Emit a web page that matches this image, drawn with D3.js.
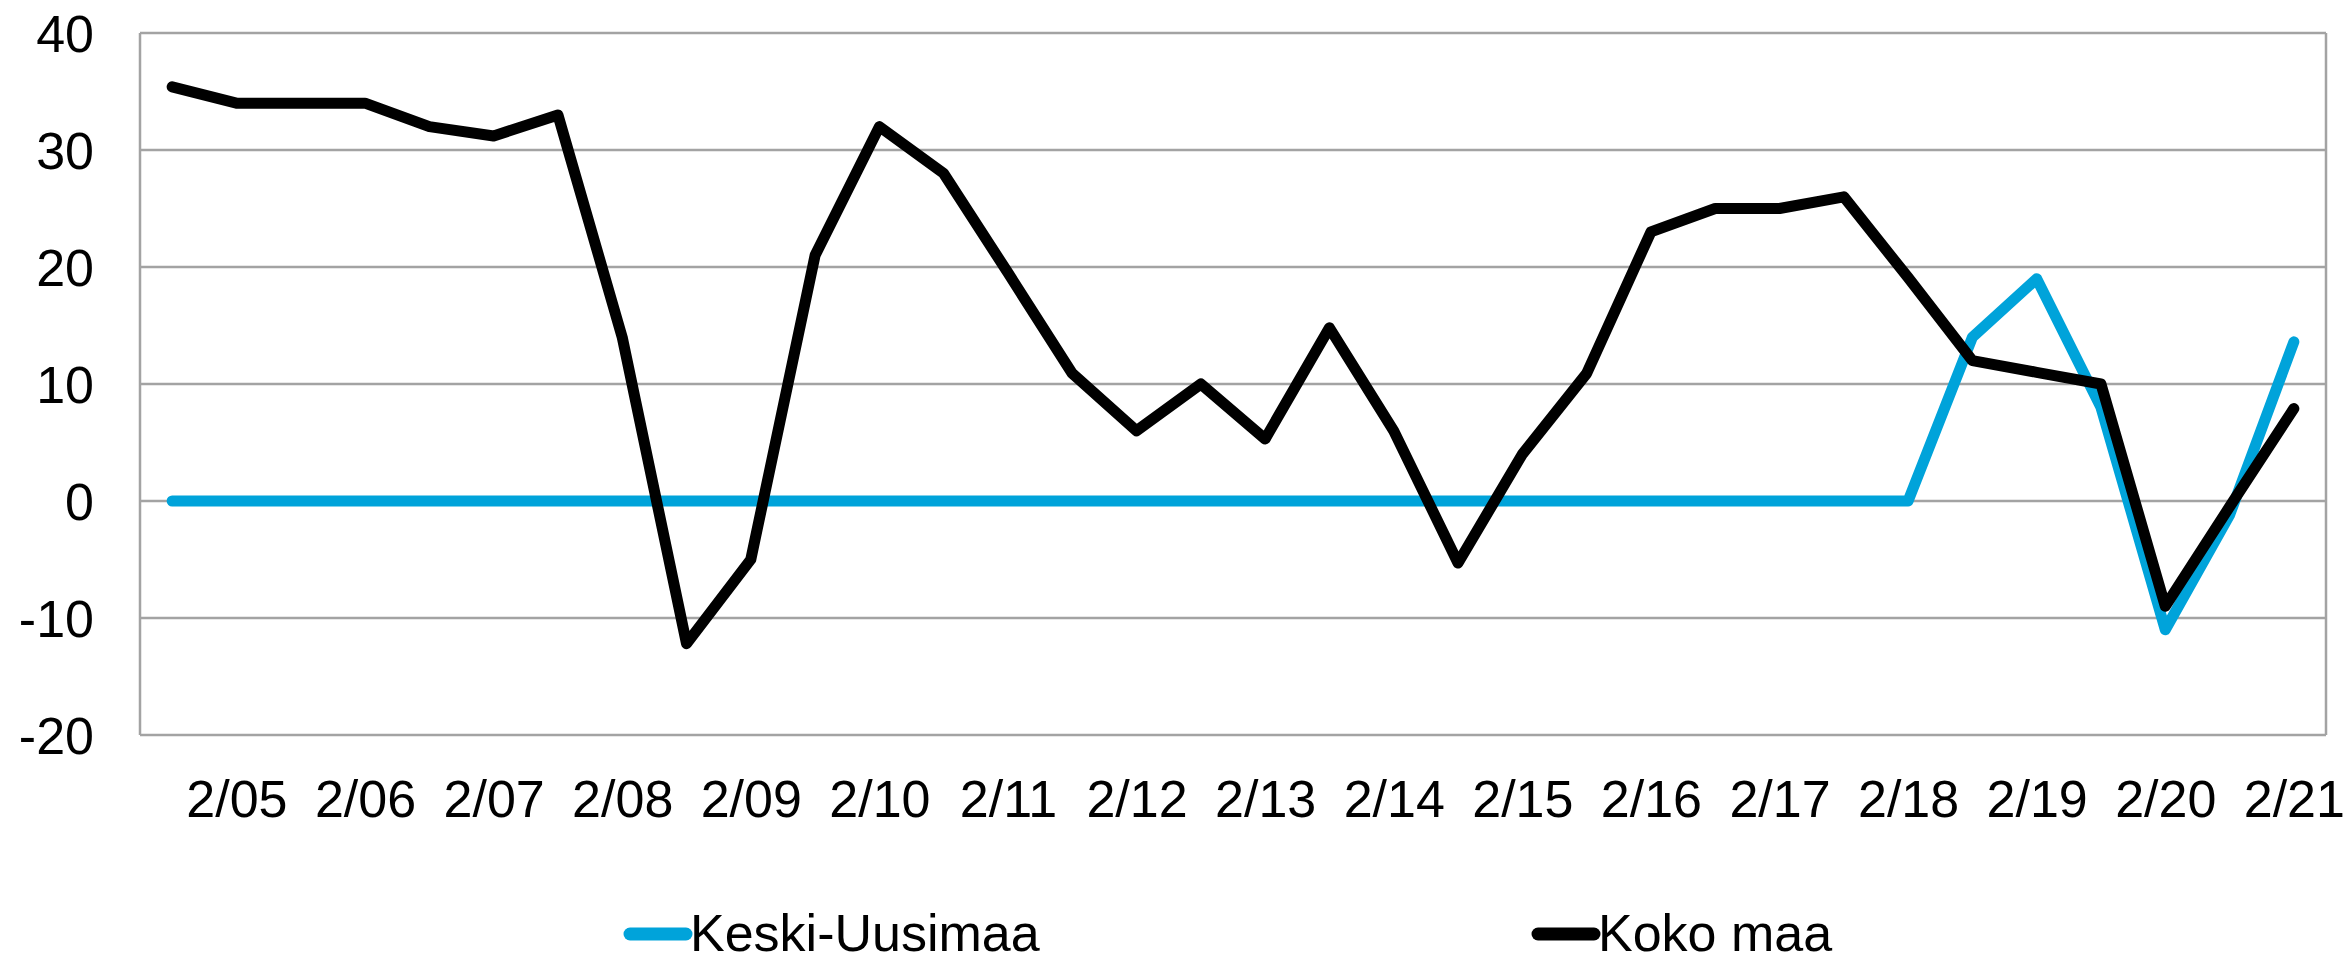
<!DOCTYPE html>
<html>
<head>
<meta charset="utf-8">
<script src="https://cdn.jsdelivr.net/npm/d3@7"></script>
<style>
  body { margin: 0; background: #fff; }
  svg text { font-family: "Liberation Sans", Arial, sans-serif; fill: #000; }
</style>
</head>
<body>
<div id="chart"></div>
<script>
// half-year periods, 1/05 ... 2/21
const categories = ["1/05","2/05","1/06","2/06","1/07","2/07","1/08","2/08","1/09","2/09",
  "1/10","2/10","1/11","2/11","1/12","2/12","1/13","2/13","1/14","2/14",
  "1/15","2/15","1/16","2/16","1/17","2/17","1/18","2/18","1/19","2/19",
  "1/20","2/20","1/21","2/21"];
const tickLabels = ["2/05","2/06","2/07","2/08","2/09","2/10","2/11","2/12","2/13",
  "2/14","2/15","2/16","2/17","2/18","2/19","2/20","2/21"];
const keskiUusimaa = [0,0,0,0,0,0,0,0,0,0,0,0,0,0,0,0,0,0,0,0,0,0,0,0,0,0,0,0,
  14,19,8,-11,-1.2,13.6];
const kokoMaa = [35.4,34,34,34,32,31.2,33,14,-12.2,-5,21,32,28,19.5,10.9,6,10,5.3,14.8,6,
  -5.3,4,10.9,23,25,25,26,19.1,12,11,10,-9,-0.5,7.9];
const yTicks = [-20,-10,0,10,20,30,40];

const series = [
  {name: "Keski-Uusimaa", values: keskiUusimaa, color: "#00a3da"},
  {name: "Koko maa", values: kokoMaa, color: "#000000"}
];

const width = 2344, height = 957;
const margin = {left: 140, right: 2326, top: 33, bottom: 735};

const svg = d3.select("#chart").append("svg")
    .attr("width", width)
    .attr("height", height);

const x = d3.scalePoint()
    .domain(categories)
    .range([margin.left, margin.right])
    .padding(0.5);

const y = d3.scaleLinear()
    .domain([-20, 40])
    .range([margin.bottom, margin.top]);

// gridlines
svg.append("g")
    .selectAll("line")
    .data(yTicks)
    .join("line")
    .attr("x1", margin.left)
    .attr("x2", margin.right)
    .attr("y1", d => y(d))
    .attr("y2", d => y(d))
    .style("stroke", "#a3a3a3")
    .style("stroke-width", 2.5);

// plot frame sides
svg.append("g")
    .selectAll("line")
    .data([margin.left, margin.right])
    .join("line")
    .attr("x1", d => d)
    .attr("x2", d => d)
    .attr("y1", margin.top)
    .attr("y2", margin.bottom)
    .style("stroke", "#a3a3a3")
    .style("stroke-width", 2.5);

// y axis labels (plain hyphen for negatives, like the original)
const yAxis = svg.append("g")
    .attr("transform", "translate(" + (margin.left - 46) + ",0)")
    .call(d3.axisLeft(y).tickValues(yTicks).tickFormat(d => String(d)).tickSize(0).tickPadding(0));
yAxis.select(".domain").remove();
yAxis.selectAll("text")
    .style("font-size", "52px")
    .attr("dy", "0.36em");

// x axis labels
const xAxis = svg.append("g")
    .attr("transform", "translate(0," + margin.bottom + ")")
    .call(d3.axisBottom(x).tickValues(tickLabels).tickSize(0).tickPadding(0));
xAxis.select(".domain").remove();
xAxis.selectAll("text")
    .style("font-size", "52px")
    .attr("dy", null)
    .attr("y", 82);

// lines
const line = d3.line()
    .x((d, i) => x(categories[i]))
    .y(d => y(d));

svg.append("g")
    .selectAll("path")
    .data(series)
    .join("path")
    .attr("d", d => line(d.values))
    .style("fill", "none")
    .style("stroke", d => d.color)
    .style("stroke-width", 11)
    .style("stroke-linejoin", "round")
    .style("stroke-linecap", "round");

// legend
const legendX = [630, 1538];
const legend = svg.append("g")
    .selectAll("g")
    .data(series)
    .join("g")
    .attr("transform", (d, i) => "translate(" + legendX[i] + ",934)");

legend.append("line")
    .attr("x1", 0)
    .attr("x2", 56)
    .style("stroke", d => d.color)
    .style("stroke-width", 13)
    .style("stroke-linecap", "round");

legend.append("text")
    .attr("x", 60)
    .attr("y", 17)
    .style("font-size", "52px")
    .text(d => d.name);
</script>
</body>
</html>
